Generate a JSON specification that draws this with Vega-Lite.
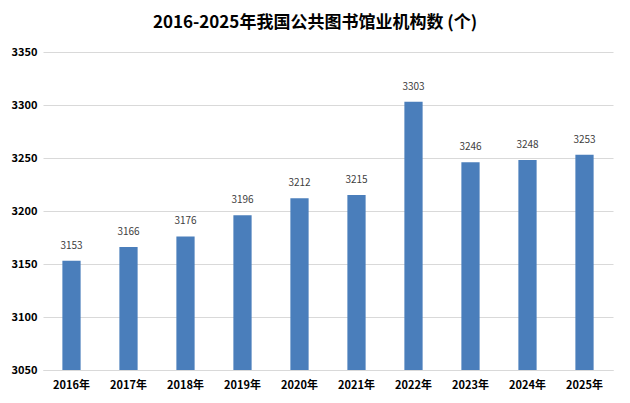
{
  "$schema": "https://vega.github.io/schema/vega-lite/v6.json",
  "width": 570,
  "height": 318,
  "autosize": "none",
  "padding": {"left": 43, "top": 52, "right": 17, "bottom": 33},
  "background": "white",
  "title": {
    "text": "2016-2025年我国公共图书馆业机构数 (个)",
    "font": "Noto Sans CJK SC",
    "fontSize": 17,
    "fontWeight": "bold",
    "color": "#000000",
    "anchor": "middle",
    "dx": -13,
    "offset": 14
  },
  "data": {
    "values": [
      {"year": "2016年", "count": 3153},
      {"year": "2017年", "count": 3166},
      {"year": "2018年", "count": 3176},
      {"year": "2019年", "count": 3196},
      {"year": "2020年", "count": 3212},
      {"year": "2021年", "count": 3215},
      {"year": "2022年", "count": 3303},
      {"year": "2023年", "count": 3246},
      {"year": "2024年", "count": 3248},
      {"year": "2025年", "count": 3253}
    ]
  },
  "encoding": {
    "x": {
      "field": "year",
      "type": "nominal",
      "sort": null,
      "title": null,
      "scale": {"paddingInner": 0.68, "paddingOuter": 0.34},
      "axis": {
        "labelAngle": 0,
        "labelFont": "Noto Sans CJK SC",
        "labelFontSize": 11,
        "labelFontWeight": "bold",
        "labelColor": "#000000",
        "labelPadding": 9,
        "ticks": false,
        "domainColor": "#d9d9d9",
        "zindex": 1
      }
    },
    "y": {
      "field": "count",
      "type": "quantitative",
      "title": null,
      "scale": {"domain": [3050, 3350], "zero": false, "nice": false},
      "axis": {
        "values": [3050, 3100, 3150, 3200, 3250, 3300, 3350],
        "format": "d",
        "labelFont": "Noto Sans CJK SC",
        "labelFontSize": 11,
        "labelFontWeight": "bold",
        "labelColor": "#000000",
        "labelPadding": 6,
        "ticks": false,
        "domain": false,
        "gridColor": "#d9d9d9"
      }
    }
  },
  "layer": [
    {
      "mark": {"type": "bar", "color": "#4A7EBB", "clip": true}
    },
    {
      "mark": {
        "type": "text",
        "baseline": "bottom",
        "dy": -10,
        "font": "Noto Sans CJK SC",
        "fontSize": 10,
        "color": "#404040"
      },
      "encoding": {"text": {"field": "count", "type": "quantitative"}}
    }
  ],
  "config": {"view": {"stroke": null}}
}
